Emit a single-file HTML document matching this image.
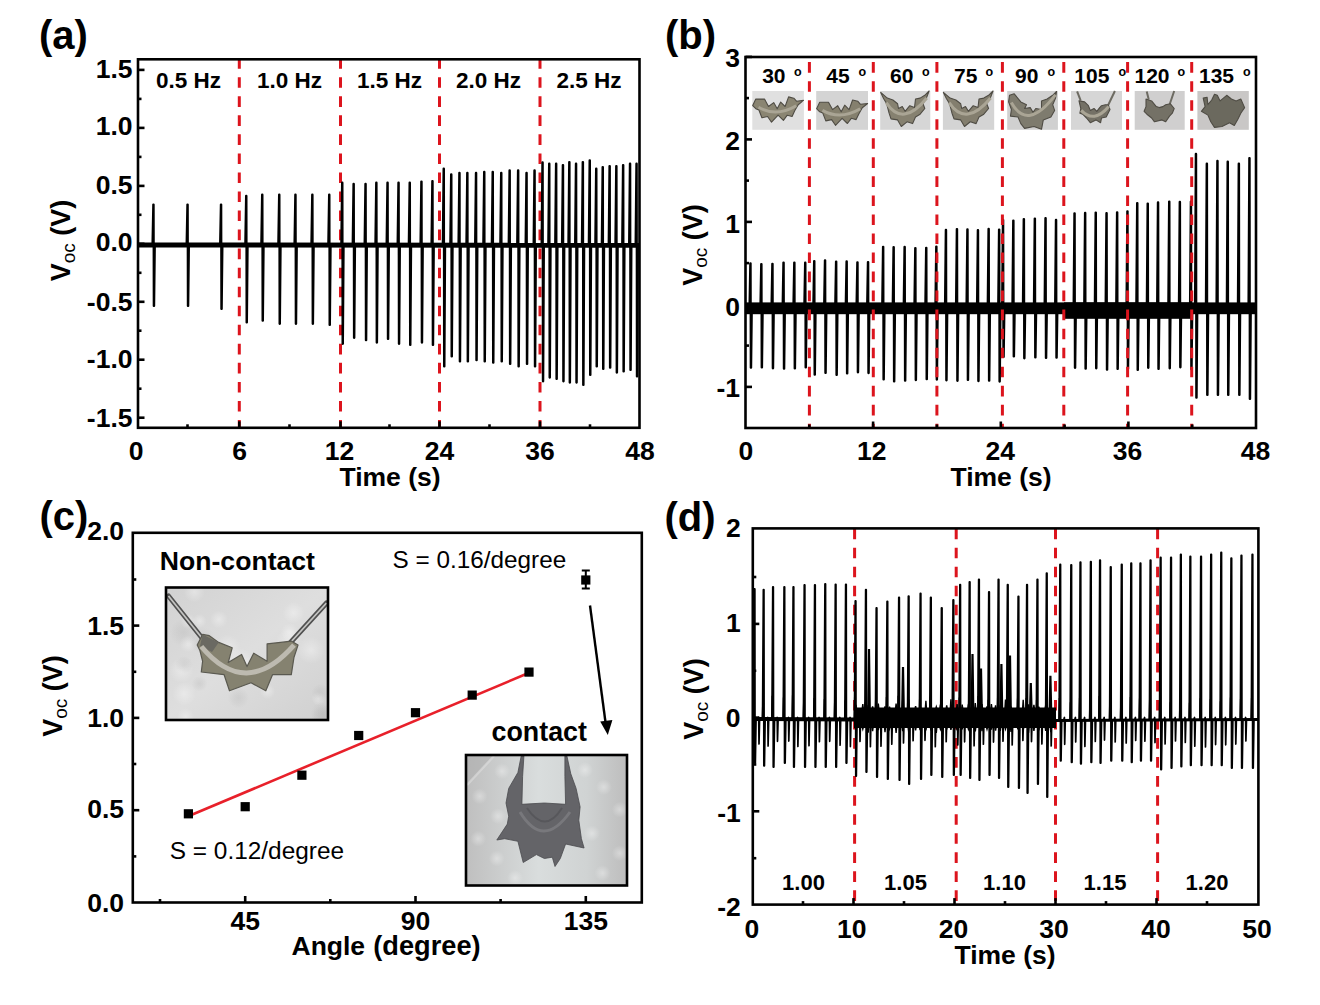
<!DOCTYPE html>
<html><head><meta charset="utf-8"><title>Figure</title>
<style>
html,body{margin:0;padding:0;background:#fff;}
svg{display:block;}
text{font-family:"Liberation Sans", sans-serif;fill:#000;}
</style></head>
<body>
<svg width="1320" height="1005" viewBox="0 0 1320 1005">
<rect width="1320" height="1005" fill="#fff"/>
<line x1="239.3" y1="58.2" x2="239.3" y2="427.8" stroke="#dc141d" stroke-width="3" stroke-dasharray="10.6 8.44" stroke-dashoffset="0"/>
<line x1="340.5" y1="58.2" x2="340.5" y2="427.8" stroke="#dc141d" stroke-width="3" stroke-dasharray="10.6 8.44" stroke-dashoffset="0"/>
<line x1="439.5" y1="58.2" x2="439.5" y2="427.8" stroke="#dc141d" stroke-width="3" stroke-dasharray="10.6 8.44" stroke-dashoffset="0"/>
<line x1="540.0" y1="58.2" x2="540.0" y2="427.8" stroke="#dc141d" stroke-width="3" stroke-dasharray="10.6 8.44" stroke-dashoffset="0"/>
<line x1="138" y1="245.0" x2="639.5" y2="245.2" stroke="#000" stroke-width="5"/>
<path d="M152.5,245.0 L153.3,204.5 L153.6,204.5 L153.8,306.0 L154.1,306.0 L154.8,246.0 M186.6,245.0 L187.4,204.5 L187.7,204.5 L187.9,306.0 L188.2,306.0 L188.9,246.0 M220.1,245.0 L220.9,204.5 L221.2,204.5 L221.4,309.0 L221.7,309.0 L222.4,246.0 M245.3,245.0 L246.1,195.9 L246.4,195.9 L246.6,322.4 L246.9,322.4 L247.6,246.0 M261.3,245.0 L262.1,194.7 L262.4,194.7 L262.6,320.7 L262.9,320.7 L263.6,246.0 M278.3,245.0 L279.1,194.7 L279.4,194.7 L279.6,323.8 L279.9,323.8 L280.6,246.0 M294.5,245.0 L295.3,194.7 L295.6,194.7 L295.8,323.8 L296.1,323.8 L296.8,246.0 M311.4,245.0 L312.2,194.7 L312.5,194.7 L312.7,323.8 L313.0,323.8 L313.7,246.0 M328.3,245.0 L329.1,194.7 L329.4,194.7 L329.6,325.0 L329.9,325.0 L330.6,246.0 M341.3,245.0 L342.1,182.7 L342.4,182.7 L342.6,343.8 L342.9,343.8 L343.6,246.0 M352.7,245.0 L353.5,183.9 L353.8,183.9 L354.0,337.8 L354.3,337.8 L355.0,246.0 M364.6,245.0 L365.4,183.9 L365.7,183.9 L365.9,340.2 L366.2,340.2 L366.9,246.0 M375.4,245.0 L376.2,182.7 L376.5,182.7 L376.7,342.6 L377.0,342.6 L377.7,246.0 M386.6,245.0 L387.4,182.7 L387.7,182.7 L387.9,339.0 L388.2,339.0 L388.9,246.0 M397.6,245.0 L398.4,182.7 L398.7,182.7 L398.9,343.8 L399.2,343.8 L399.9,246.0 M408.8,245.0 L409.6,182.7 L409.9,182.7 L410.1,345.0 L410.4,345.0 L411.1,246.0 M420.5,245.0 L421.3,181.5 L421.6,181.5 L421.8,342.6 L422.1,342.6 L422.8,246.0 M431.5,245.0 L432.3,181.0 L432.6,181.0 L432.8,345.0 L433.1,345.0 L433.8,246.0 M442.8,245.0 L443.6,168.7 L443.9,168.7 L444.1,366.4 L444.4,366.4 L445.1,246.0 M450.3,245.0 L451.1,174.4 L451.4,174.4 L451.6,356.5 L451.9,356.5 L452.6,246.0 M458.5,245.0 L459.3,172.9 L459.6,172.9 L459.8,361.4 L460.1,361.4 L460.8,246.0 M466.4,245.0 L467.2,172.9 L467.5,172.9 L467.7,361.4 L468.0,361.4 L468.7,246.0 M475.1,245.0 L475.9,172.9 L476.2,172.9 L476.4,360.2 L476.7,360.2 L477.4,246.0 M483.3,245.0 L484.1,171.9 L484.4,171.9 L484.6,361.4 L484.9,361.4 L485.6,246.0 M491.8,245.0 L492.6,171.9 L492.9,171.9 L493.1,362.7 L493.4,362.7 L494.1,246.0 M500.3,245.0 L501.1,172.9 L501.4,172.9 L501.6,361.4 L501.9,361.4 L502.6,246.0 M508.7,245.0 L509.5,170.4 L509.8,170.4 L510.0,363.9 L510.3,363.9 L511.0,246.0 M517.2,245.0 L518.0,170.4 L518.3,170.4 L518.5,366.4 L518.8,366.4 L519.5,246.0 M525.6,245.0 L526.4,172.9 L526.7,172.9 L526.9,363.9 L527.2,363.9 L527.9,246.0 M533.6,245.0 L534.4,170.4 L534.7,170.4 L534.9,366.4 L535.2,366.4 L535.9,246.0 M541.6,245.0 L542.4,162.4 L542.7,162.4 L542.9,381.3 L543.2,381.3 L543.9,246.0 M548.3,245.0 L549.1,163.7 L549.4,163.7 L549.6,377.6 L549.9,377.6 L550.6,246.0 M555.2,245.0 L556.0,163.7 L556.3,163.7 L556.5,378.9 L556.8,378.9 L557.5,246.0 M562.0,245.0 L562.8,165.0 L563.1,165.0 L563.3,381.3 L563.6,381.3 L564.3,246.0 M568.4,245.0 L569.2,162.0 L569.5,162.0 L569.7,382.6 L570.0,382.6 L570.7,246.0 M575.1,245.0 L575.9,163.7 L576.2,163.7 L576.4,382.6 L576.7,382.6 L577.4,246.0 M581.9,245.0 L582.7,162.0 L583.0,162.0 L583.2,385.0 L583.5,385.0 L584.2,246.0 M588.8,245.0 L589.6,160.4 L589.9,160.4 L590.1,375.0 L590.4,375.0 L591.1,246.0 M595.3,245.0 L596.1,168.7 L596.4,168.7 L596.6,366.4 L596.9,366.4 L597.6,246.0 M601.8,245.0 L602.6,167.0 L602.9,167.0 L603.1,369.0 L603.4,369.0 L604.1,246.0 M608.7,245.0 L609.5,166.0 L609.8,166.0 L610.0,367.7 L610.3,367.7 L611.0,246.0 M615.4,245.0 L616.2,166.0 L616.5,166.0 L616.7,372.6 L617.0,372.6 L617.7,246.0 M622.2,245.0 L623.0,165.0 L623.3,165.0 L623.5,371.4 L623.8,371.4 L624.5,246.0 M629.1,245.0 L629.9,163.7 L630.2,163.7 L630.4,370.0 L630.7,370.0 L631.4,246.0 M635.6,245.0 L636.4,163.7 L636.7,163.7 L636.9,376.4 L637.2,376.4 L637.9,246.0" fill="none" stroke="#000" stroke-width="2.2" stroke-linejoin="round"/>
<rect x="138" y="59.3" width="501.5" height="368.5" fill="none" stroke="#000" stroke-width="2.6"/>
<line x1="138" y1="69.9" x2="144.5" y2="69.9" stroke="#000" stroke-width="2.6"/>
<line x1="138" y1="127.9" x2="144.5" y2="127.9" stroke="#000" stroke-width="2.6"/>
<line x1="138" y1="185.9" x2="144.5" y2="185.9" stroke="#000" stroke-width="2.6"/>
<line x1="138" y1="243.8" x2="144.5" y2="243.8" stroke="#000" stroke-width="2.6"/>
<line x1="138" y1="301.8" x2="144.5" y2="301.8" stroke="#000" stroke-width="2.6"/>
<line x1="138" y1="359.7" x2="144.5" y2="359.7" stroke="#000" stroke-width="2.6"/>
<line x1="138" y1="417.7" x2="144.5" y2="417.7" stroke="#000" stroke-width="2.6"/>
<line x1="138" y1="98.9" x2="141.5" y2="98.9" stroke="#000" stroke-width="2.6"/>
<line x1="138" y1="156.9" x2="141.5" y2="156.9" stroke="#000" stroke-width="2.6"/>
<line x1="138" y1="214.8" x2="141.5" y2="214.8" stroke="#000" stroke-width="2.6"/>
<line x1="138" y1="272.8" x2="141.5" y2="272.8" stroke="#000" stroke-width="2.6"/>
<line x1="138" y1="330.7" x2="141.5" y2="330.7" stroke="#000" stroke-width="2.6"/>
<line x1="138" y1="388.7" x2="141.5" y2="388.7" stroke="#000" stroke-width="2.6"/>
<line x1="239.3" y1="427.8" x2="239.3" y2="421.3" stroke="#000" stroke-width="2.6"/>
<line x1="340.5" y1="427.8" x2="340.5" y2="421.3" stroke="#000" stroke-width="2.6"/>
<line x1="439.5" y1="427.8" x2="439.5" y2="421.3" stroke="#000" stroke-width="2.6"/>
<line x1="540.0" y1="427.8" x2="540.0" y2="421.3" stroke="#000" stroke-width="2.6"/>
<line x1="187.5" y1="427.8" x2="187.5" y2="424.3" stroke="#000" stroke-width="2.6"/>
<line x1="289.5" y1="427.8" x2="289.5" y2="424.3" stroke="#000" stroke-width="2.6"/>
<line x1="389.5" y1="427.8" x2="389.5" y2="424.3" stroke="#000" stroke-width="2.6"/>
<line x1="489.5" y1="427.8" x2="489.5" y2="424.3" stroke="#000" stroke-width="2.6"/>
<line x1="590.0" y1="427.8" x2="590.0" y2="424.3" stroke="#000" stroke-width="2.6"/>
<text x="132.5" y="77.7" font-size="26.5" font-weight="bold" text-anchor="end" >1.5</text>
<text x="132.5" y="135.4" font-size="26.5" font-weight="bold" text-anchor="end" >1.0</text>
<text x="132.5" y="193.7" font-size="26.5" font-weight="bold" text-anchor="end" >0.5</text>
<text x="132.5" y="251.3" font-size="26.5" font-weight="bold" text-anchor="end" >0.0</text>
<text x="132.5" y="310.9" font-size="26.5" font-weight="bold" text-anchor="end" >-0.5</text>
<text x="132.5" y="367.9" font-size="26.5" font-weight="bold" text-anchor="end" >-1.0</text>
<text x="132.5" y="426.8" font-size="26.5" font-weight="bold" text-anchor="end" >-1.5</text>
<text x="136.0" y="460.3" font-size="26.5" font-weight="bold" text-anchor="middle" >0</text>
<text x="239.5" y="460.3" font-size="26.5" font-weight="bold" text-anchor="middle" >6</text>
<text x="339.5" y="460.3" font-size="26.5" font-weight="bold" text-anchor="middle" >12</text>
<text x="439.5" y="460.3" font-size="26.5" font-weight="bold" text-anchor="middle" >24</text>
<text x="540.0" y="460.3" font-size="26.5" font-weight="bold" text-anchor="middle" >36</text>
<text x="640.0" y="460.3" font-size="26.5" font-weight="bold" text-anchor="middle" >48</text>
<text x="390.0" y="486.0" font-size="26.5" font-weight="bold" text-anchor="middle" >Time (s)</text>
<text transform="translate(69.5,240.5) rotate(-90)" font-size="27" font-weight="bold" text-anchor="middle">V<tspan font-size="19" font-weight="normal" dy="5">oc</tspan><tspan dy="-5"> (V)</tspan></text>
<text x="39.0" y="48.5" font-size="40" font-weight="bold" text-anchor="start" >(a)</text>
<text x="188.5" y="88.0" font-size="22.5" font-weight="bold" text-anchor="middle" >0.5 Hz</text>
<text x="289.5" y="88.0" font-size="22.5" font-weight="bold" text-anchor="middle" >1.0 Hz</text>
<text x="389.5" y="88.0" font-size="22.5" font-weight="bold" text-anchor="middle" >1.5 Hz</text>
<text x="488.5" y="88.0" font-size="22.5" font-weight="bold" text-anchor="middle" >2.0 Hz</text>
<text x="589.0" y="88.0" font-size="22.5" font-weight="bold" text-anchor="middle" >2.5 Hz</text>
<rect x="745.5" y="302.4" width="510.5" height="11.8" fill="#000"/>
<rect x="1064" y="302.4" width="128" height="16.4" fill="#000"/>
<path d="M749.5,308.0 L750.3,263.3 L750.6,263.3 L750.8,367.7 L751.1,367.7 L751.8,309.0 M760.4,308.0 L761.2,264.1 L761.5,264.1 L761.7,367.4 L762.0,367.4 L762.7,309.0 M771.5,308.0 L772.3,263.8 L772.6,263.8 L772.8,368.3 L773.1,368.3 L773.8,309.0 M782.6,308.0 L783.4,262.6 L783.7,262.6 L783.9,368.7 L784.2,368.7 L784.9,309.0 M793.4,308.0 L794.2,262.6 L794.5,262.6 L794.7,368.5 L795.0,368.5 L795.7,309.0 M804.3,308.0 L805.1,262.7 L805.4,262.7 L805.6,367.5 L805.9,367.5 L806.6,309.0 M813.3,308.0 L814.1,261.0 L814.4,261.0 L814.6,374.7 L814.9,374.7 L815.6,309.0 M824.1,308.0 L824.9,260.3 L825.2,260.3 L825.4,372.9 L825.7,372.9 L826.4,309.0 M835.2,308.0 L836.0,261.5 L836.3,261.5 L836.5,375.0 L836.8,375.0 L837.5,309.0 M845.7,308.0 L846.5,261.4 L846.8,261.4 L847.0,373.4 L847.3,373.4 L848.0,309.0 M856.5,308.0 L857.3,262.3 L857.6,262.3 L857.8,372.3 L858.1,372.3 L858.8,309.0 M867.1,308.0 L867.9,262.1 L868.2,262.1 L868.4,373.1 L868.7,373.1 L869.4,309.0 M882.2,308.0 L883.0,246.8 L883.3,246.8 L883.5,379.4 L883.8,379.4 L884.5,309.0 M892.7,308.0 L893.5,247.2 L893.8,247.2 L894.0,381.4 L894.3,381.4 L895.0,309.0 M903.7,308.0 L904.5,246.9 L904.8,246.9 L905.0,380.7 L905.3,380.7 L906.0,309.0 M914.4,308.0 L915.2,248.0 L915.5,248.0 L915.7,380.1 L916.0,380.1 L916.7,309.0 M925.3,308.0 L926.1,247.8 L926.4,247.8 L926.6,379.2 L926.9,379.2 L927.6,309.0 M935.4,308.0 L936.2,246.6 L936.5,246.6 L936.7,379.6 L937.0,379.6 L937.7,309.0 M945.0,308.0 L945.8,229.9 L946.1,229.9 L946.3,380.3 L946.6,380.3 L947.3,309.0 M956.0,308.0 L956.8,229.1 L957.1,229.1 L957.3,380.8 L957.6,380.8 L958.3,309.0 M966.5,308.0 L967.3,229.4 L967.6,229.4 L967.8,379.9 L968.1,379.9 L968.8,309.0 M977.0,308.0 L977.8,230.2 L978.1,230.2 L978.3,381.1 L978.6,381.1 L979.3,309.0 M987.7,308.0 L988.5,228.9 L988.8,228.9 L989.0,380.7 L989.3,380.7 L990.0,309.0 M998.2,308.0 L999.0,229.6 L999.3,229.6 L999.5,381.6 L999.8,381.6 L1000.5,309.0 M1002.1,308.0 L1002.9,219.9 L1003.2,219.9 L1003.4,356.9 L1003.7,356.9 L1004.4,309.0 M1012.4,308.0 L1013.2,220.5 L1013.5,220.5 L1013.7,356.4 L1014.0,356.4 L1014.7,309.0 M1022.9,308.0 L1023.7,219.1 L1024.0,219.1 L1024.2,358.3 L1024.5,358.3 L1025.2,309.0 M1033.9,308.0 L1034.7,218.5 L1035.0,218.5 L1035.2,357.5 L1035.5,357.5 L1036.2,309.0 M1044.6,308.0 L1045.4,218.2 L1045.7,218.2 L1045.9,358.0 L1046.2,358.0 L1046.9,309.0 M1055.1,308.0 L1055.9,219.9 L1056.2,219.9 L1056.4,357.7 L1056.7,357.7 L1057.4,309.0 M1073.6,308.0 L1074.4,213.3 L1074.7,213.3 L1074.9,367.8 L1075.2,367.8 L1075.9,309.0 M1084.2,308.0 L1085.0,212.9 L1085.3,212.9 L1085.5,368.7 L1085.8,368.7 L1086.5,309.0 M1094.8,308.0 L1095.6,212.6 L1095.9,212.6 L1096.1,368.3 L1096.4,368.3 L1097.1,309.0 M1105.6,308.0 L1106.4,213.2 L1106.7,213.2 L1106.9,369.7 L1107.2,369.7 L1107.9,309.0 M1116.2,308.0 L1117.0,212.3 L1117.3,212.3 L1117.5,368.9 L1117.8,368.9 L1118.5,309.0 M1126.5,308.0 L1127.3,211.3 L1127.6,211.3 L1127.8,369.0 L1128.1,369.0 L1128.8,309.0 M1136.3,308.0 L1137.1,203.1 L1137.4,203.1 L1137.6,369.9 L1137.9,369.9 L1138.6,309.0 M1146.8,308.0 L1147.6,203.5 L1147.9,203.5 L1148.1,367.8 L1148.4,367.8 L1149.1,309.0 M1157.1,308.0 L1157.9,202.4 L1158.2,202.4 L1158.4,368.9 L1158.7,368.9 L1159.4,309.0 M1168.3,308.0 L1169.1,201.6 L1169.4,201.6 L1169.6,368.3 L1169.9,368.3 L1170.6,309.0 M1178.9,308.0 L1179.7,201.9 L1180.0,201.9 L1180.2,367.3 L1180.5,367.3 L1181.2,309.0 M1190.0,308.0 L1190.8,201.6 L1191.1,201.6 L1191.3,369.2 L1191.6,369.2 L1192.3,309.0 M1195.0,308.0 L1195.8,153.9 L1196.1,153.9 L1196.3,397.7 L1196.6,397.7 L1197.3,309.0 M1205.9,308.0 L1206.7,163.7 L1207.0,163.7 L1207.2,394.9 L1207.5,394.9 L1208.2,309.0 M1216.5,308.0 L1217.3,160.9 L1217.6,160.9 L1217.8,394.9 L1218.1,394.9 L1218.8,309.0 M1226.8,308.0 L1227.6,161.7 L1227.9,161.7 L1228.1,394.9 L1228.4,394.9 L1229.1,309.0 M1237.9,308.0 L1238.7,163.7 L1239.0,163.7 L1239.2,394.9 L1239.5,394.9 L1240.2,309.0 M1248.5,308.0 L1249.3,158.1 L1249.6,158.1 L1249.8,399.0 L1250.1,399.0 L1250.8,309.0" fill="none" stroke="#000" stroke-width="2.2" stroke-linejoin="round"/>
<line x1="809.4" y1="62.1" x2="809.4" y2="428.0" stroke="#dc141d" stroke-width="3" stroke-dasharray="10.6 8.44" stroke-dashoffset="0"/>
<line x1="873.3" y1="62.1" x2="873.3" y2="428.0" stroke="#dc141d" stroke-width="3" stroke-dasharray="10.6 8.44" stroke-dashoffset="0"/>
<line x1="936.9" y1="62.1" x2="936.9" y2="428.0" stroke="#dc141d" stroke-width="3" stroke-dasharray="10.6 8.44" stroke-dashoffset="0"/>
<line x1="1002.4" y1="62.1" x2="1002.4" y2="428.0" stroke="#dc141d" stroke-width="3" stroke-dasharray="10.6 8.44" stroke-dashoffset="0"/>
<line x1="1063.8" y1="62.1" x2="1063.8" y2="428.0" stroke="#dc141d" stroke-width="3" stroke-dasharray="10.6 8.44" stroke-dashoffset="0"/>
<line x1="1127.6" y1="62.1" x2="1127.6" y2="428.0" stroke="#dc141d" stroke-width="3" stroke-dasharray="10.6 8.44" stroke-dashoffset="0"/>
<line x1="1191.7" y1="62.1" x2="1191.7" y2="428.0" stroke="#dc141d" stroke-width="3" stroke-dasharray="10.6 8.44" stroke-dashoffset="0"/>
<rect x="752.3" y="91.0" width="51.6" height="38.8" fill="#e0e0e0"/>
<polygon points="755.8,99.1 764.5,99.1 768.5,106.5 773.7,102.6 777.2,108.7 780.7,102.1 785.1,106.5 788.6,96.9 793.8,98.2 796.5,101.2 803.5,100.4 798.2,104.7 794.7,110.8 792.1,116.5 787.3,115.2 783.4,120.4 778.1,115.2 771.5,122.2 767.6,116.5 761.9,117.8 758.9,110.0 755.8,108.7 752.7,105.6" fill="#8a8572" stroke="#4f4c44" stroke-width="1.1" stroke-linejoin="round"/>
<path d="M758.5,107.3 Q776.6,117.4 796.2,105.7" fill="none" stroke="#aaa595" stroke-width="3"/>
<rect x="816.2" y="91.0" width="51.8" height="38.8" fill="#d4d4d4"/>
<polygon points="819.7,102.2 828.5,102.2 832.5,109.6 837.7,105.7 841.2,111.8 844.7,105.2 849.1,109.6 852.6,100.0 857.9,101.3 860.5,104.3 867.6,103.5 862.3,107.8 858.8,113.9 856.1,119.6 851.3,118.3 847.4,123.5 842.1,118.3 835.5,125.3 831.6,119.6 825.8,120.9 822.8,113.1 819.7,111.8 816.6,108.7" fill="#85806e" stroke="#4f4c44" stroke-width="1.1" stroke-linejoin="round"/>
<path d="M822.4,110.4 Q840.5,120.5 860.2,108.8" fill="none" stroke="#aaa595" stroke-width="3"/>
<rect x="880.2" y="91.0" width="50.1" height="38.8" fill="#d6d6d6"/>
<polygon points="880.7,92.4 887.3,98.1 892.9,100.0 897.6,103.8 898.5,108.5 902.3,106.6 905.1,111.3 909.8,105.7 914.5,107.6 915.5,99.0 920.1,98.1 924.8,95.3 929.1,91.0 926.7,97.2 923.0,103.8 924.8,108.5 920.1,114.2 915.5,117.0 912.6,123.6 907.0,121.8 901.3,126.5 897.6,119.9 891.0,118.9 889.1,113.2 886.7,103.8 883.7,98.8" fill="#868170" stroke="#4f4c44" stroke-width="1.1" stroke-linejoin="round"/>
<path d="M886.2,102.6 Q902.7,127.9 926.8,98.0" fill="none" stroke="#aaa595" stroke-width="3"/>
<rect x="942.9" y="91.0" width="51.3" height="38.8" fill="#d4d4d4"/>
<polygon points="943.4,92.4 950.1,98.1 955.9,100.0 960.7,103.8 961.7,108.5 965.5,106.6 968.4,111.3 973.2,105.7 978.0,107.6 979.0,99.0 983.8,98.1 988.6,95.3 993.0,91.0 990.6,97.2 986.7,103.8 988.6,108.5 983.8,114.2 979.0,117.0 976.1,123.6 970.3,121.8 964.5,126.5 960.7,119.9 954.0,118.9 952.0,113.2 949.6,103.8 946.5,98.8" fill="#837e6e" stroke="#4f4c44" stroke-width="1.1" stroke-linejoin="round"/>
<path d="M949.1,102.6 Q966.0,127.9 990.6,98.0" fill="none" stroke="#aaa595" stroke-width="3"/>
<rect x="1007.2" y="91.0" width="50.7" height="38.8" fill="#d0d0d0"/>
<polygon points="1009.5,95.3 1014.2,93.8 1020.8,101.9 1026.5,104.7 1024.6,108.5 1030.2,107.6 1033.0,112.3 1035.8,108.5 1041.5,109.5 1041.5,100.9 1047.1,99.0 1052.7,95.3 1056.5,91.5 1055.6,98.1 1052.7,104.7 1054.6,110.4 1050.9,117.0 1043.3,119.9 1041.5,129.3 1034.0,126.5 1024.6,128.4 1020.8,123.6 1018.0,117.0 1010.5,116.1 1011.4,109.5 1008.6,101.9" fill="#7e7b6e" stroke="#4f4c44" stroke-width="1.1" stroke-linejoin="round"/>
<path d="M1011.3,102.6 Q1027.5,131.7 1055.4,94.9" fill="none" stroke="#aaa595" stroke-width="3"/>
<rect x="1071.0" y="91.0" width="51.0" height="38.8" fill="#d6d6d6"/>
<line x1="1077.1" y1="91.4" x2="1080.7" y2="100.7" stroke="#6d6b62" stroke-width="2"/>
<line x1="1114.9" y1="91.0" x2="1108.2" y2="105.0" stroke="#6d6b62" stroke-width="2"/>
<polygon points="1079.0,100.9 1084.6,101.9 1088.4,105.7 1090.3,110.4 1094.0,108.5 1096.8,111.3 1099.7,107.6 1101.5,105.7 1105.3,104.7 1108.1,104.7 1110.0,109.5 1108.1,113.2 1106.2,117.0 1101.5,118.0 1100.6,122.7 1095.9,119.9 1090.3,122.7 1086.5,118.0 1082.7,114.2 1079.9,113.2 1080.8,108.5" fill="#747166" stroke="#4f4c44" stroke-width="1.1" stroke-linejoin="round"/>
<path d="M1081.2,110.4 Q1094.0,124.0 1108.7,106.5" fill="none" stroke="#aaa595" stroke-width="3"/>
<rect x="1134.7" y="91.0" width="50.0" height="38.8" fill="#d0cfcf"/>
<line x1="1146.7" y1="91.4" x2="1148.7" y2="99.5" stroke="#6d6b62" stroke-width="2"/>
<line x1="1174.2" y1="91.0" x2="1169.7" y2="104.2" stroke="#6d6b62" stroke-width="2"/>
<polygon points="1146.0,99.0 1151.6,100.9 1156.3,106.6 1159.2,107.6 1162.9,106.6 1165.7,104.7 1170.4,103.8 1174.2,108.5 1172.3,113.2 1169.5,116.1 1165.7,121.8 1162.0,119.9 1154.5,121.8 1151.6,118.0 1146.9,114.2 1144.1,111.3 1146.0,106.6" fill="#747166" stroke="#4f4c44" stroke-width="1.1" stroke-linejoin="round"/>
<rect x="1197.4" y="91.0" width="51.4" height="38.8" fill="#c9c7c6"/>
<polygon points="1203.2,98.1 1207.1,97.2 1207.9,104.7 1211.7,100.0 1214.5,94.3 1217.3,95.3 1220.1,100.9 1226.7,95.3 1231.4,99.0 1236.1,100.9 1240.8,99.0 1244.6,107.6 1240.8,113.2 1238.0,118.9 1234.3,125.5 1229.5,122.7 1222.0,126.5 1214.5,127.4 1210.8,121.8 1207.9,115.1 1201.4,111.3 1205.1,106.6" fill="#6b695e" stroke="#4f4c44" stroke-width="1.1" stroke-linejoin="round"/>
<rect x="745.5" y="57.0" width="510.5" height="371.0" fill="none" stroke="#000" stroke-width="2.6"/>
<line x1="745.5" y1="56.9" x2="752.0" y2="56.9" stroke="#000" stroke-width="2.6"/>
<line x1="745.5" y1="139.4" x2="752.0" y2="139.4" stroke="#000" stroke-width="2.6"/>
<line x1="745.5" y1="221.9" x2="752.0" y2="221.9" stroke="#000" stroke-width="2.6"/>
<line x1="745.5" y1="304.4" x2="752.0" y2="304.4" stroke="#000" stroke-width="2.6"/>
<line x1="745.5" y1="386.9" x2="752.0" y2="386.9" stroke="#000" stroke-width="2.6"/>
<line x1="745.5" y1="98.1" x2="749.0" y2="98.1" stroke="#000" stroke-width="2.6"/>
<line x1="745.5" y1="180.6" x2="749.0" y2="180.6" stroke="#000" stroke-width="2.6"/>
<line x1="745.5" y1="263.1" x2="749.0" y2="263.1" stroke="#000" stroke-width="2.6"/>
<line x1="745.5" y1="345.6" x2="749.0" y2="345.6" stroke="#000" stroke-width="2.6"/>
<line x1="873.1" y1="428.0" x2="873.1" y2="421.5" stroke="#000" stroke-width="2.6"/>
<line x1="1000.8" y1="428.0" x2="1000.8" y2="421.5" stroke="#000" stroke-width="2.6"/>
<line x1="1128.4" y1="428.0" x2="1128.4" y2="421.5" stroke="#000" stroke-width="2.6"/>
<line x1="809.3" y1="428.0" x2="809.3" y2="424.5" stroke="#000" stroke-width="2.6"/>
<line x1="936.9" y1="428.0" x2="936.9" y2="424.5" stroke="#000" stroke-width="2.6"/>
<line x1="1064.6" y1="428.0" x2="1064.6" y2="424.5" stroke="#000" stroke-width="2.6"/>
<line x1="1192.2" y1="428.0" x2="1192.2" y2="424.5" stroke="#000" stroke-width="2.6"/>
<text x="740.0" y="67.2" font-size="26.5" font-weight="bold" text-anchor="end" >3</text>
<text x="740.0" y="149.8" font-size="26.5" font-weight="bold" text-anchor="end" >2</text>
<text x="740.0" y="232.5" font-size="26.5" font-weight="bold" text-anchor="end" >1</text>
<text x="740.0" y="315.7" font-size="26.5" font-weight="bold" text-anchor="end" >0</text>
<text x="740.0" y="397.0" font-size="26.5" font-weight="bold" text-anchor="end" >-1</text>
<text x="745.8" y="460.3" font-size="26.5" font-weight="bold" text-anchor="middle" >0</text>
<text x="871.8" y="460.3" font-size="26.5" font-weight="bold" text-anchor="middle" >12</text>
<text x="1000.2" y="460.3" font-size="26.5" font-weight="bold" text-anchor="middle" >24</text>
<text x="1127.4" y="460.3" font-size="26.5" font-weight="bold" text-anchor="middle" >36</text>
<text x="1255.5" y="460.3" font-size="26.5" font-weight="bold" text-anchor="middle" >48</text>
<text x="1001.0" y="486.0" font-size="26.5" font-weight="bold" text-anchor="middle" >Time (s)</text>
<text transform="translate(701.5,245.0) rotate(-90)" font-size="27" font-weight="bold" text-anchor="middle">V<tspan font-size="19" font-weight="normal" dy="5">oc</tspan><tspan dy="-5"> (V)</tspan></text>
<text x="665.0" y="48.5" font-size="40" font-weight="bold" text-anchor="start" >(b)</text>
<text x="762.2" y="83.2" font-size="21" font-weight="bold" text-anchor="start" >30</text>
<text x="794.0" y="76.0" font-size="12.5" font-weight="bold" text-anchor="start" >o</text>
<text x="826.3" y="83.2" font-size="21" font-weight="bold" text-anchor="start" >45</text>
<text x="858.5" y="76.0" font-size="12.5" font-weight="bold" text-anchor="start" >o</text>
<text x="890.0" y="83.2" font-size="21" font-weight="bold" text-anchor="start" >60</text>
<text x="922.0" y="76.0" font-size="12.5" font-weight="bold" text-anchor="start" >o</text>
<text x="954.0" y="83.2" font-size="21" font-weight="bold" text-anchor="start" >75</text>
<text x="985.5" y="76.0" font-size="12.5" font-weight="bold" text-anchor="start" >o</text>
<text x="1015.0" y="83.2" font-size="21" font-weight="bold" text-anchor="start" >90</text>
<text x="1047.5" y="76.0" font-size="12.5" font-weight="bold" text-anchor="start" >o</text>
<text x="1074.3" y="83.2" font-size="21" font-weight="bold" text-anchor="start" >105</text>
<text x="1118.5" y="76.0" font-size="12.5" font-weight="bold" text-anchor="start" >o</text>
<text x="1134.5" y="83.2" font-size="21" font-weight="bold" text-anchor="start" >120</text>
<text x="1177.5" y="76.0" font-size="12.5" font-weight="bold" text-anchor="start" >o</text>
<text x="1199.0" y="83.2" font-size="21" font-weight="bold" text-anchor="start" >135</text>
<text x="1243.0" y="76.0" font-size="12.5" font-weight="bold" text-anchor="start" >o</text>
<rect x="132.8" y="532.8" width="508.99999999999994" height="369.70000000000005" fill="none" stroke="#000" stroke-width="2.6"/>
<line x1="132.8" y1="625.6" x2="139.3" y2="625.6" stroke="#000" stroke-width="2.6"/>
<line x1="132.8" y1="717.9" x2="139.3" y2="717.9" stroke="#000" stroke-width="2.6"/>
<line x1="132.8" y1="810.2" x2="139.3" y2="810.2" stroke="#000" stroke-width="2.6"/>
<line x1="132.8" y1="579.5" x2="136.3" y2="579.5" stroke="#000" stroke-width="2.6"/>
<line x1="132.8" y1="671.8" x2="136.3" y2="671.8" stroke="#000" stroke-width="2.6"/>
<line x1="132.8" y1="764.0" x2="136.3" y2="764.0" stroke="#000" stroke-width="2.6"/>
<line x1="132.8" y1="856.4" x2="136.3" y2="856.4" stroke="#000" stroke-width="2.6"/>
<line x1="245.2" y1="902.5" x2="245.2" y2="896.0" stroke="#000" stroke-width="2.6"/>
<line x1="415.5" y1="902.5" x2="415.5" y2="896.0" stroke="#000" stroke-width="2.6"/>
<line x1="585.8" y1="902.5" x2="585.8" y2="896.0" stroke="#000" stroke-width="2.6"/>
<line x1="160.0" y1="902.5" x2="160.0" y2="899.0" stroke="#000" stroke-width="2.6"/>
<line x1="330.3" y1="902.5" x2="330.3" y2="899.0" stroke="#000" stroke-width="2.6"/>
<line x1="500.6" y1="902.5" x2="500.6" y2="899.0" stroke="#000" stroke-width="2.6"/>
<text x="124.0" y="540.0" font-size="26.5" font-weight="bold" text-anchor="end" >2.0</text>
<text x="124.0" y="634.9" font-size="26.5" font-weight="bold" text-anchor="end" >1.5</text>
<text x="124.0" y="726.7" font-size="26.5" font-weight="bold" text-anchor="end" >1.0</text>
<text x="124.0" y="818.2" font-size="26.5" font-weight="bold" text-anchor="end" >0.5</text>
<text x="124.0" y="912.0" font-size="26.5" font-weight="bold" text-anchor="end" >0.0</text>
<text x="245.2" y="929.8" font-size="26.5" font-weight="bold" text-anchor="middle" >45</text>
<text x="415.5" y="929.8" font-size="26.5" font-weight="bold" text-anchor="middle" >90</text>
<text x="585.8" y="929.8" font-size="26.5" font-weight="bold" text-anchor="middle" >135</text>
<text x="291.5" y="954.5" font-size="26.5" font-weight="bold" text-anchor="start" >Angle</text>
<text x="373.3" y="954.5" font-size="27.2" font-weight="bold" text-anchor="start" >(degree)</text>
<text transform="translate(62.0,696.0) rotate(-90)" font-size="27" font-weight="bold" text-anchor="middle">V<tspan font-size="19" font-weight="normal" dy="5">oc</tspan><tspan dy="-5"> (V)</tspan></text>
<text x="39.5" y="530.0" font-size="40" font-weight="bold" text-anchor="start" >(c)</text>
<line x1="190" y1="815.5" x2="528.5" y2="673" stroke="#e8202a" stroke-width="2.6"/>
<rect x="183.8" y="809.2" width="9.2" height="9.2" fill="#000"/>
<rect x="240.6" y="802.1" width="9.2" height="9.2" fill="#000"/>
<rect x="297.3" y="770.6" width="9.2" height="9.2" fill="#000"/>
<rect x="354.1" y="730.9" width="9.2" height="9.2" fill="#000"/>
<rect x="410.9" y="708.1" width="9.2" height="9.2" fill="#000"/>
<rect x="467.6" y="690.5" width="9.2" height="9.2" fill="#000"/>
<rect x="524.4" y="667.5" width="9.2" height="9.2" fill="#000"/>
<rect x="581.2" y="575.4" width="9.2" height="9.2" fill="#000"/>
<path d="M585.8,570.5 V588.5 M581.8,570.5 H589.8 M581.8,588.5 H589.8" stroke="#000" stroke-width="2" fill="none"/>
<line x1="590" y1="605.5" x2="605.6" y2="723" stroke="#000" stroke-width="2.4"/>
<path d="M600.2,721.5 L612.4,720 L607.8,735 Z" fill="#000"/>
<defs><linearGradient id="g1" x1="0" y1="0" x2="1" y2="1"><stop offset="0" stop-color="#d2d2d2"/><stop offset="0.5" stop-color="#dedede"/><stop offset="1" stop-color="#d0d0d0"/></linearGradient><radialGradient id="spot"><stop offset="0" stop-color="#fff" stop-opacity="0.35"/><stop offset="1" stop-color="#fff" stop-opacity="0"/></radialGradient><radialGradient id="dspot"><stop offset="0" stop-color="#999" stop-opacity="0.18"/><stop offset="1" stop-color="#888" stop-opacity="0"/></radialGradient><linearGradient id="g2" x1="0" y1="0" x2="1" y2="0"><stop offset="0" stop-color="#bfbfbf"/><stop offset="0.45" stop-color="#d9dddd"/><stop offset="0.75" stop-color="#d0d3d3"/><stop offset="1" stop-color="#bdbdbd"/></linearGradient></defs>
<rect x="166" y="587.5" width="162" height="132.5" fill="url(#g1)"/>
<clipPath id="c1"><rect x="166" y="587.5" width="162" height="132.5"/></clipPath><g clip-path="url(#c1)">
<circle cx="240.1" cy="661.7" r="13.5" fill="url(#spot)"/>
<circle cx="248.7" cy="665.2" r="8.3" fill="url(#spot)"/>
<circle cx="267.6" cy="691.5" r="7.7" fill="url(#spot)"/>
<circle cx="184.1" cy="693.6" r="11.9" fill="url(#spot)"/>
<circle cx="322.2" cy="713.5" r="11.6" fill="url(#dspot)"/>
<circle cx="194.4" cy="591.9" r="10.7" fill="url(#spot)"/>
<circle cx="199.5" cy="621.0" r="7.2" fill="url(#spot)"/>
<circle cx="238.3" cy="697.8" r="10.6" fill="url(#dspot)"/>
<circle cx="247.5" cy="674.8" r="10.2" fill="url(#spot)"/>
<circle cx="324.6" cy="717.4" r="12.9" fill="url(#dspot)"/>
<circle cx="218.9" cy="619.4" r="9.0" fill="url(#spot)"/>
<circle cx="288.8" cy="641.3" r="12.9" fill="url(#spot)"/>
<circle cx="318.5" cy="698.5" r="7.0" fill="url(#spot)"/>
<circle cx="311.1" cy="650.2" r="13.9" fill="url(#spot)"/>
<circle cx="181.3" cy="670.6" r="12.4" fill="url(#spot)"/>
<circle cx="183.5" cy="632.6" r="13.7" fill="url(#dspot)"/>
<circle cx="188.3" cy="621.5" r="7.7" fill="url(#spot)"/>
<circle cx="293.5" cy="612.7" r="10.9" fill="url(#spot)"/>
<circle cx="199.6" cy="683.7" r="7.9" fill="url(#dspot)"/>
<circle cx="188.1" cy="643.9" r="8.5" fill="url(#spot)"/>
<circle cx="320.5" cy="692.8" r="9.1" fill="url(#dspot)"/>
<circle cx="202.7" cy="640.5" r="13.0" fill="url(#dspot)"/>
<circle cx="185.6" cy="716.6" r="8.5" fill="url(#spot)"/>
<circle cx="289.8" cy="632.1" r="9.1" fill="url(#spot)"/>
<circle cx="184.0" cy="664.6" r="8.7" fill="url(#dspot)"/>
<circle cx="227.6" cy="648.0" r="13.7" fill="url(#spot)"/>
</g>
<path d="M168.5,596 L202,638 M326.5,603 L290,643" stroke="#505050" stroke-width="5" fill="none" stroke-linecap="round"/>
<path d="M168.5,596 L202,638 M326.5,603 L290,643" stroke="#c4c4c2" stroke-width="1.8" fill="none"/>
<polygon points="197.2,645.1 202.6,634.4 209.3,635.7 218.7,642.4 232.2,647.8 228.2,662.6 241.6,654.5 247,666.6 253.7,653.2 267.1,661.2 267.1,643.8 280.6,642.4 291.3,641.1 298,645.1 294,657.2 291.3,674.7 272.5,674.7 265.8,690.8 251,682.8 229.5,690.8 224.1,674.7 201.3,672 202.6,661.2 199.9,650.5" fill="#858270" stroke="#5a5950" stroke-width="1.2" stroke-linejoin="round"/>
<path d="M202.6,634.4 L218.7,642.4 L212,652 L200,646 Z" fill="#6a6962"/>
<path d="M201.3,646.5 Q245.6,700 294,645.1" fill="none" stroke="#bdbab0" stroke-width="5"/>
<rect x="166" y="587.5" width="162" height="132.5" fill="none" stroke="#000" stroke-width="2.6"/>
<rect x="466" y="755" width="161" height="130.5" fill="url(#g2)"/>
<rect x="494" y="763.2" width="16" height="16" transform="rotate(45 502 771.2)" fill="url(#spot)"/>
<rect x="471.6" y="788.3" width="16" height="16" transform="rotate(45 479.6 796.3)" fill="url(#spot)"/>
<rect x="490.1" y="808.2" width="16" height="16" transform="rotate(45 498.1 816.2)" fill="url(#spot)"/>
<rect x="470.2" y="830.7" width="16" height="16" transform="rotate(45 478.2 838.7)" fill="url(#spot)"/>
<rect x="488.8" y="850.5" width="16" height="16" transform="rotate(45 496.8 858.5)" fill="url(#spot)"/>
<rect x="507" y="870" width="16" height="16" transform="rotate(45 515 878)" fill="url(#spot)"/>
<rect x="595.9" y="779.1" width="16" height="16" transform="rotate(45 603.9 787.1)" fill="url(#spot)"/>
<rect x="611.8" y="801.6" width="16" height="16" transform="rotate(45 619.8 809.6)" fill="url(#spot)"/>
<rect x="611.8" y="845.2" width="16" height="16" transform="rotate(45 619.8 853.2)" fill="url(#spot)"/>
<rect x="594.6" y="865.1" width="16" height="16" transform="rotate(45 602.6 873.1)" fill="url(#spot)"/>
<rect x="584" y="825.4" width="16" height="16" transform="rotate(45 592 833.4)" fill="url(#spot)"/>
<rect x="577" y="762" width="16" height="16" transform="rotate(45 585 770)" fill="url(#spot)"/>
<path d="M466,755 L494,755 L466,786 Z" fill="#a8a8a8" opacity="0.45"/>
<path d="M467,785 L494,756" stroke="#dedede" stroke-width="2.5" fill="none" opacity="0.6"/>
<polygon points="521.2,756 517.9,772.5 508.7,788.4 506,803 508.7,816.2 507.3,824.1 496.8,840 504.7,838.7 517.9,841.3 523.2,862.5 536.4,854.6 544.4,858.5 552.3,857.2 555,866.5 560.3,858.5 565.6,844 584.1,848 581.4,838.7 578.8,820.2 580.1,806.9 576.1,788.4 570.8,773.8 566.9,756 564.9,756 564.9,776.5 565.6,804.3 544.4,803 521.9,804.3 522.6,776.5 523.9,756" fill="#646468" stroke="#4a4a4e" stroke-width="0.8" stroke-linejoin="round"/>
<path d="M520,812 Q543,850 570,812" fill="none" stroke="#78787c" stroke-width="3"/>
<path d="M527,808 Q545,835 562,808" fill="none" stroke="#57575b" stroke-width="2"/>
<rect x="466" y="755" width="161" height="130.5" fill="none" stroke="#000" stroke-width="2.6"/>
<text x="159.8" y="570.0" font-size="26.6" font-weight="bold" text-anchor="start" >Non-contact</text>
<text x="491.6" y="741.2" font-size="26.8" font-weight="bold" text-anchor="start" >contact</text>
<text x="169.8" y="858.8" font-size="24.4" font-weight="normal" text-anchor="start" >S = 0.12/degree</text>
<text x="392.6" y="567.9" font-size="24.3" font-weight="normal" text-anchor="start" >S = 0.16/degree</text>
<line x1="854.6" y1="528.6" x2="854.6" y2="904.6" stroke="#dc141d" stroke-width="3" stroke-dasharray="10.6 8.44" stroke-dashoffset="0"/>
<line x1="956.2" y1="528.6" x2="956.2" y2="904.6" stroke="#dc141d" stroke-width="3" stroke-dasharray="10.6 8.44" stroke-dashoffset="0"/>
<line x1="1055.5" y1="528.6" x2="1055.5" y2="904.6" stroke="#dc141d" stroke-width="3" stroke-dasharray="10.6 8.44" stroke-dashoffset="0"/>
<line x1="1157.6" y1="528.6" x2="1157.6" y2="904.6" stroke="#dc141d" stroke-width="3" stroke-dasharray="10.6 8.44" stroke-dashoffset="0"/>
<line x1="752.8" y1="719" x2="855" y2="719.5" stroke="#000" stroke-width="4"/>
<rect x="854" y="707.5" width="202" height="20.5" fill="#000"/>
<line x1="1055" y1="720.5" x2="1258.4" y2="719.5" stroke="#000" stroke-width="3.2"/>
<path d="M753.6,719.0 L754.4,589.0 L754.7,589.0 L754.9,763.0 L755.2,763.0 L755.9,720.0 M762.7,719.0 L763.5,589.8 L763.8,589.8 L764.0,765.7 L764.3,765.7 L765.0,720.0 M772.1,719.0 L772.9,587.0 L773.2,587.0 L773.4,767.0 L773.7,767.0 L774.4,720.0 M783.4,719.0 L784.2,587.0 L784.5,587.0 L784.7,763.0 L785.0,763.0 L785.7,720.0 M792.5,719.0 L793.3,587.0 L793.6,587.0 L793.8,767.0 L794.1,767.0 L794.8,720.0 M803.6,719.0 L804.4,585.0 L804.7,585.0 L804.9,767.0 L805.2,767.0 L805.9,720.0 M814.0,719.0 L814.8,585.0 L815.1,585.0 L815.3,767.0 L815.6,767.0 L816.3,720.0 M824.3,719.0 L825.1,584.0 L825.4,584.0 L825.6,767.0 L825.9,767.0 L826.6,720.0 M834.7,719.0 L835.5,584.6 L835.8,584.6 L836.0,767.0 L836.3,767.0 L837.0,720.0 M845.0,719.0 L845.8,584.6 L846.1,584.6 L846.3,763.0 L846.6,763.0 L847.3,720.0 M854.6,719.0 L855.4,601.0 L855.7,601.0 L855.9,776.0 L856.2,776.0 L856.9,720.0 M865.0,719.0 L865.8,589.8 L866.1,589.8 L866.3,772.0 L866.6,772.0 L867.3,720.0 M875.6,719.0 L876.4,607.9 L876.7,607.9 L876.9,777.0 L877.2,777.0 L877.9,720.0 M886.4,719.0 L887.2,601.4 L887.5,601.4 L887.7,779.0 L888.0,779.0 L888.7,720.0 M898.1,719.0 L898.9,597.5 L899.2,597.5 L899.4,780.0 L899.7,780.0 L900.4,720.0 M907.7,719.0 L908.5,596.2 L908.8,596.2 L909.0,784.0 L909.3,784.0 L910.0,720.0 M919.6,719.0 L920.4,593.6 L920.7,593.6 L920.9,779.0 L921.2,779.0 L921.9,720.0 M929.9,719.0 L930.7,597.5 L931.0,597.5 L931.2,775.0 L931.5,775.0 L932.2,720.0 M940.8,719.0 L941.6,607.9 L941.9,607.9 L942.1,777.0 L942.4,777.0 L943.1,720.0 M952.4,719.0 L953.2,600.0 L953.5,600.0 L953.7,775.0 L954.0,775.0 L954.7,720.0 M959.2,719.0 L960.0,584.8 L960.3,584.8 L960.5,775.0 L960.8,775.0 L961.5,720.0 M968.7,719.0 L969.5,582.0 L969.8,582.0 L970.0,778.0 L970.3,778.0 L971.0,720.0 M978.0,719.0 L978.8,579.6 L979.1,579.6 L979.3,780.0 L979.6,780.0 L980.3,720.0 M988.1,719.0 L988.9,592.0 L989.2,592.0 L989.4,775.0 L989.7,775.0 L990.4,720.0 M997.6,719.0 L998.4,579.6 L998.7,579.6 L998.9,778.0 L999.2,778.0 L999.9,720.0 M1006.8,719.0 L1007.6,584.8 L1007.9,584.8 L1008.1,787.0 L1008.4,787.0 L1009.1,720.0 M1017.5,719.0 L1018.3,596.4 L1018.6,596.4 L1018.8,788.0 L1019.1,788.0 L1019.8,720.0 M1026.1,719.0 L1026.9,584.8 L1027.2,584.8 L1027.4,793.0 L1027.7,793.0 L1028.4,720.0 M1036.5,719.0 L1037.3,579.6 L1037.6,579.6 L1037.8,784.0 L1038.1,784.0 L1038.8,720.0 M1045.8,719.0 L1046.6,573.3 L1046.9,573.3 L1047.1,797.0 L1047.4,797.0 L1048.1,720.0 M1059.3,719.0 L1060.1,564.6 L1060.4,564.6 L1060.6,760.8 L1060.9,760.8 L1061.6,720.0 M1070.3,719.0 L1071.1,565.0 L1071.4,565.0 L1071.6,762.3 L1071.9,762.3 L1072.6,720.0 M1079.5,719.0 L1080.3,562.3 L1080.6,562.3 L1080.8,763.7 L1081.1,763.7 L1081.8,720.0 M1089.9,719.0 L1090.7,561.7 L1091.0,561.7 L1091.2,762.3 L1091.5,762.3 L1092.2,720.0 M1099.1,719.0 L1099.9,560.3 L1100.2,560.3 L1100.4,763.0 L1100.7,763.0 L1101.4,720.0 M1109.8,719.0 L1110.6,566.9 L1110.9,566.9 L1111.1,760.8 L1111.4,760.8 L1112.1,720.0 M1120.8,719.0 L1121.6,564.6 L1121.9,564.6 L1122.1,760.8 L1122.4,760.8 L1123.1,720.0 M1130.3,719.0 L1131.1,563.2 L1131.4,563.2 L1131.6,762.3 L1131.9,762.3 L1132.6,720.0 M1139.5,719.0 L1140.3,563.2 L1140.6,563.2 L1140.8,760.8 L1141.1,760.8 L1141.8,720.0 M1149.6,719.0 L1150.4,560.3 L1150.7,560.3 L1150.9,760.8 L1151.2,760.8 L1151.9,720.0 M1159.7,719.0 L1160.5,557.4 L1160.8,557.4 L1161.0,769.5 L1161.3,769.5 L1162.0,720.0 M1170.1,719.0 L1170.9,557.4 L1171.2,557.4 L1171.4,768.0 L1171.7,768.0 L1172.4,720.0 M1179.9,719.0 L1180.7,554.5 L1181.0,554.5 L1181.2,766.6 L1181.5,766.6 L1182.2,720.0 M1189.4,719.0 L1190.2,556.5 L1190.5,556.5 L1190.7,765.2 L1191.0,765.2 L1191.7,720.0 M1200.1,719.0 L1200.9,556.5 L1201.2,556.5 L1201.4,765.2 L1201.7,765.2 L1202.4,720.0 M1210.2,719.0 L1211.0,554.5 L1211.3,554.5 L1211.5,765.2 L1211.8,765.2 L1212.5,720.0 M1220.3,719.0 L1221.1,552.5 L1221.4,552.5 L1221.6,765.2 L1221.9,765.2 L1222.6,720.0 M1230.4,719.0 L1231.2,558.3 L1231.5,558.3 L1231.7,768.0 L1232.0,768.0 L1232.7,720.0 M1240.5,719.0 L1241.3,555.4 L1241.6,555.4 L1241.8,768.0 L1242.1,768.0 L1242.8,720.0 M1251.5,719.0 L1252.3,554.5 L1252.6,554.5 L1252.8,768.0 L1253.1,768.0 L1253.8,720.0" fill="none" stroke="#000" stroke-width="2.0" stroke-linejoin="round"/>
<path d="M758.1,719 L758.7,717.5 L759.0,744.0 L759.6,719.5 M767.2,719 L767.8,717.5 L768.1,746.1 L768.7,719.5 M776.6,719 L777.2,717.5 L777.5,741.3 L778.1,719.5 M787.9,719 L788.5,717.5 L788.8,741.1 L789.4,719.5 M797.0,719 L797.6,717.5 L797.9,746.4 L798.5,719.5 M808.1,719 L808.7,717.5 L809.0,745.7 L809.6,719.5 M818.5,719 L819.1,717.5 L819.4,741.7 L820.0,719.5 M828.8,719 L829.4,717.5 L829.7,741.3 L830.3,719.5 M839.2,719 L839.8,717.5 L840.1,745.2 L840.7,719.5 M849.5,719 L850.1,717.5 L850.4,746.6 L851.0,719.5 M859.1,719 L859.7,717.5 L860.0,741.4 L860.6,719.5 M869.5,719 L870.1,717.5 L870.4,746.7 L871.0,719.5 M880.1,719 L880.7,717.5 L881.0,746.2 L881.6,719.5 M890.9,719 L891.5,717.5 L891.8,744.2 L892.4,719.5 M902.6,719 L903.2,717.5 L903.5,743.0 L904.1,719.5 M912.2,719 L912.8,717.5 L913.1,740.7 L913.7,719.5 M924.1,719 L924.7,717.5 L925.0,740.3 L925.6,719.5 M934.4,719 L935.0,717.5 L935.3,746.7 L935.9,719.5 M945.3,719 L945.9,717.5 L946.2,741.7 L946.8,719.5 M956.9,719 L957.5,717.5 L957.8,744.9 L958.4,719.5 M963.7,719 L964.3,717.5 L964.6,741.8 L965.2,719.5 M973.2,719 L973.8,717.5 L974.1,745.8 L974.7,719.5 M982.5,719 L983.1,717.5 L983.4,744.2 L984.0,719.5 M992.6,719 L993.2,717.5 L993.5,742.1 L994.1,719.5 M1002.1,719 L1002.7,717.5 L1003.0,741.2 L1003.6,719.5 M1011.3,719 L1011.9,717.5 L1012.2,745.0 L1012.8,719.5 M1022.0,719 L1022.6,717.5 L1022.9,740.5 L1023.5,719.5 M1030.6,719 L1031.2,717.5 L1031.5,741.6 L1032.1,719.5 M1041.0,719 L1041.6,717.5 L1041.9,743.9 L1042.5,719.5 M1050.3,719 L1050.9,717.5 L1051.2,746.0 L1051.8,719.5 M1063.8,719 L1064.4,717.5 L1064.7,744.3 L1065.3,719.5 M1074.8,719 L1075.4,717.5 L1075.7,742.0 L1076.3,719.5 M1084.0,719 L1084.6,717.5 L1084.9,746.4 L1085.5,719.5 M1094.4,719 L1095.0,717.5 L1095.3,741.4 L1095.9,719.5 M1103.6,719 L1104.2,717.5 L1104.5,740.1 L1105.1,719.5 M1114.3,719 L1114.9,717.5 L1115.2,741.9 L1115.8,719.5 M1125.3,719 L1125.9,717.5 L1126.2,743.1 L1126.8,719.5 M1134.8,719 L1135.4,717.5 L1135.7,740.4 L1136.3,719.5 M1144.0,719 L1144.6,717.5 L1144.9,741.2 L1145.5,719.5 M1154.1,719 L1154.7,717.5 L1155.0,742.6 L1155.6,719.5 M1164.2,719 L1164.8,717.5 L1165.1,744.0 L1165.7,719.5 M1174.6,719 L1175.2,717.5 L1175.5,740.9 L1176.1,719.5 M1184.4,719 L1185.0,717.5 L1185.3,742.5 L1185.9,719.5 M1193.9,719 L1194.5,717.5 L1194.8,746.2 L1195.4,719.5 M1204.6,719 L1205.2,717.5 L1205.5,746.9 L1206.1,719.5 M1214.7,719 L1215.3,717.5 L1215.6,744.6 L1216.2,719.5 M1224.8,719 L1225.4,717.5 L1225.7,744.8 L1226.3,719.5 M1234.9,719 L1235.5,717.5 L1235.8,744.1 L1236.4,719.5 M1245.0,719 L1245.6,717.5 L1245.9,741.0 L1246.5,719.5" fill="none" stroke="#000" stroke-width="1.7" stroke-linejoin="round"/>
<path d="M753.5,719 L754.0,702.7 M762.6,719 L763.1,702.9 M772.0,719 L772.5,695.7 M783.3,719 L783.8,697.4 M792.4,719 L792.9,695.3 M803.5,719 L804.0,702.8 M813.9,719 L814.4,697.9 M824.2,719 L824.7,699.1 M834.6,719 L835.1,697.2 M844.9,719 L845.4,700.4 M854.5,719 L855.0,695.0 M864.9,719 L865.4,702.4 M875.5,719 L876.0,698.6 M886.3,719 L886.8,697.1 M898.0,719 L898.5,695.8 M907.6,719 L908.1,697.1 M919.5,719 L920.0,697.4 M929.8,719 L930.3,696.7 M940.7,719 L941.2,695.7 M952.3,719 L952.8,700.2 M959.1,719 L959.6,697.5 M968.6,719 L969.1,695.8 M977.9,719 L978.4,696.0 M988.0,719 L988.5,699.7 M997.5,719 L998.0,696.7 M1006.7,719 L1007.2,696.1 M1017.4,719 L1017.9,698.4 M1026.0,719 L1026.5,698.0 M1036.4,719 L1036.9,699.9 M1045.7,719 L1046.2,698.3 M1059.2,719 L1059.7,698.1 M1070.2,719 L1070.7,702.4 M1079.4,719 L1079.9,697.9 M1089.8,719 L1090.3,695.1 M1099.0,719 L1099.5,696.0 M1109.7,719 L1110.2,697.2 M1120.7,719 L1121.2,699.9 M1130.2,719 L1130.7,697.1 M1139.4,719 L1139.9,698.4 M1149.5,719 L1150.0,699.5 M1159.6,719 L1160.1,696.3 M1170.0,719 L1170.5,702.3 M1179.8,719 L1180.3,697.0 M1189.3,719 L1189.8,702.8 M1200.0,719 L1200.5,698.2 M1210.1,719 L1210.6,699.2 M1220.2,719 L1220.7,701.2 M1230.3,719 L1230.8,697.4 M1240.4,719 L1240.9,699.0 M1251.4,719 L1251.9,698.1" fill="none" stroke="#000" stroke-width="2"/>
<path d="M855.4,709 L856.0,704.8 L856.6,709 M855.4,727 L856.0,732.2 L856.6,727 M862.2,709 L862.8,704.2 L863.4,709 M862.2,727 L862.8,729.1 L863.4,727 M867.6,709 L868.2,705.1 L868.8,709 M867.6,727 L868.2,732.6 L868.8,727 M872.0,709 L872.6,706.3 L873.2,709 M872.0,727 L872.6,731.2 L873.2,727 M877.7,709 L878.3,703.7 L878.9,709 M877.7,727 L878.3,730.1 L878.9,727 M884.4,709 L885.0,706.5 L885.6,709 M884.4,727 L885.0,732.2 L885.6,727 M888.9,709 L889.5,706.6 L890.1,709 M888.9,727 L889.5,729.0 L890.1,727 M895.5,709 L896.1,703.7 L896.7,709 M895.5,727 L896.1,732.9 L896.7,727 M902.1,709 L902.7,699.2 L903.3,709 M902.1,727 L902.7,731.2 L903.3,727 M908.1,709 L908.7,699.4 L909.3,709 M908.1,727 L908.7,731.8 L909.3,727 M915.0,709 L915.6,706.1 L916.2,709 M915.0,727 L915.6,730.4 L916.2,727 M919.5,709 L920.1,704.6 L920.7,709 M919.5,727 L920.1,730.2 L920.7,727 M925.3,709 L925.9,700.9 L926.5,709 M925.3,727 L925.9,730.4 L926.5,727 M930.3,709 L930.9,705.6 L931.5,709 M930.3,727 L930.9,730.3 L931.5,727 M935.7,709 L936.3,706.8 L936.9,709 M935.7,727 L936.3,732.9 L936.9,727 M939.8,709 L940.4,704.5 L941.0,709 M939.8,727 L940.4,729.1 L941.0,727 M946.1,709 L946.7,705.3 L947.3,709 M946.1,727 L946.7,729.0 L947.3,727 M950.3,709 L950.9,699.3 L951.5,709 M950.3,727 L950.9,729.8 L951.5,727 M956.5,709 L957.1,704.2 L957.7,709 M956.5,727 L957.1,730.4 L957.7,727 M961.6,709 L962.2,704.7 L962.8,709 M961.6,727 L962.2,729.4 L962.8,727 M967.8,709 L968.4,704.4 L969.0,709 M967.8,727 L968.4,729.1 L969.0,727 M974.7,709 L975.3,703.0 L975.9,709 M974.7,727 L975.3,731.4 L975.9,727 M981.4,709 L982.0,704.2 L982.6,709 M981.4,727 L982.0,731.2 L982.6,727 M986.4,709 L987.0,706.5 L987.6,709 M986.4,727 L987.0,729.3 L987.6,727 M990.8,709 L991.4,704.0 L992.0,709 M990.8,727 L991.4,729.6 L992.0,727 M995.0,709 L995.6,705.4 L996.2,709 M995.0,727 L995.6,730.6 L996.2,727 M999.7,709 L1000.3,704.5 L1000.9,709 M999.7,727 L1000.3,730.8 L1000.9,727 M1004.9,709 L1005.5,699.5 L1006.1,709 M1004.9,727 L1005.5,729.1 L1006.1,727 M1010.4,709 L1011.0,706.6 L1011.6,709 M1010.4,727 L1011.0,731.9 L1011.6,727 M1017.3,709 L1017.9,704.6 L1018.5,709 M1017.3,727 L1017.9,729.4 L1018.5,727 M1022.6,709 L1023.2,699.9 L1023.8,709 M1022.6,727 L1023.2,730.2 L1023.8,727 M1027.9,709 L1028.5,704.4 L1029.1,709 M1027.9,727 L1028.5,732.9 L1029.1,727 M1033.3,709 L1033.9,704.8 L1034.5,709 M1033.3,727 L1033.9,730.9 L1034.5,727 M1038.2,709 L1038.8,706.6 L1039.4,709 M1038.2,727 L1038.8,730.5 L1039.4,727 M1045.1,709 L1045.7,705.1 L1046.3,709 M1045.1,727 L1045.7,731.0 L1046.3,727 M1050.2,709 L1050.8,703.4 L1051.4,709 M1050.2,727 L1050.8,732.1 L1051.4,727" fill="none" stroke="#000" stroke-width="1.4"/>
<path d="M868.2,712 L869.0,649.0 L869.8,712 M902.2,712 L903.0,667.0 L903.8,712 M971.7,712 L972.5,654.0 L973.3,712 M980.2,712 L981.0,668.5 L981.8,712 M1000.6,712 L1001.4,664.0 L1002.2,712 M1009.2,712 L1010.0,655.5 L1010.8,712 M1030.0,712 L1030.8,683.0 L1031.6,712 M1049.6,712 L1050.4,675.7 L1051.2,712" fill="none" stroke="#000" stroke-width="2.2"/>
<rect x="752.8" y="528.4" width="505.60000000000014" height="376.20000000000005" fill="none" stroke="#000" stroke-width="2.6"/>
<line x1="752.8" y1="623.9" x2="759.3" y2="623.9" stroke="#000" stroke-width="2.6"/>
<line x1="752.8" y1="717.6" x2="759.3" y2="717.6" stroke="#000" stroke-width="2.6"/>
<line x1="752.8" y1="811.3" x2="759.3" y2="811.3" stroke="#000" stroke-width="2.6"/>
<line x1="752.8" y1="577.0" x2="756.3" y2="577.0" stroke="#000" stroke-width="2.6"/>
<line x1="752.8" y1="670.8" x2="756.3" y2="670.8" stroke="#000" stroke-width="2.6"/>
<line x1="752.8" y1="764.5" x2="756.3" y2="764.5" stroke="#000" stroke-width="2.6"/>
<line x1="752.8" y1="858.2" x2="756.3" y2="858.2" stroke="#000" stroke-width="2.6"/>
<line x1="853.5" y1="904.6" x2="853.5" y2="898.1" stroke="#000" stroke-width="2.6"/>
<line x1="954.5" y1="904.6" x2="954.5" y2="898.1" stroke="#000" stroke-width="2.6"/>
<line x1="1055.5" y1="904.6" x2="1055.5" y2="898.1" stroke="#000" stroke-width="2.6"/>
<line x1="1156.5" y1="904.6" x2="1156.5" y2="898.1" stroke="#000" stroke-width="2.6"/>
<line x1="803.0" y1="904.6" x2="803.0" y2="901.1" stroke="#000" stroke-width="2.6"/>
<line x1="904.0" y1="904.6" x2="904.0" y2="901.1" stroke="#000" stroke-width="2.6"/>
<line x1="1005.0" y1="904.6" x2="1005.0" y2="901.1" stroke="#000" stroke-width="2.6"/>
<line x1="1106.0" y1="904.6" x2="1106.0" y2="901.1" stroke="#000" stroke-width="2.6"/>
<line x1="1207.0" y1="904.6" x2="1207.0" y2="901.1" stroke="#000" stroke-width="2.6"/>
<text x="740.8" y="537.4" font-size="26.5" font-weight="bold" text-anchor="end" >2</text>
<text x="740.8" y="631.9" font-size="26.5" font-weight="bold" text-anchor="end" >1</text>
<text x="740.8" y="821.7" font-size="26.5" font-weight="bold" text-anchor="end" >-1</text>
<text x="740.8" y="915.7" font-size="26.5" font-weight="bold" text-anchor="end" >-2</text>
<text x="740.6" y="727.0" font-size="26.5" font-weight="bold" text-anchor="end" >0</text>
<text x="751.9" y="937.8" font-size="26.5" font-weight="bold" text-anchor="middle" >0</text>
<text x="851.7" y="937.8" font-size="26.5" font-weight="bold" text-anchor="middle" >10</text>
<text x="953.4" y="937.8" font-size="26.5" font-weight="bold" text-anchor="middle" >20</text>
<text x="1054.0" y="937.8" font-size="26.5" font-weight="bold" text-anchor="middle" >30</text>
<text x="1156.1" y="937.8" font-size="26.5" font-weight="bold" text-anchor="middle" >40</text>
<text x="1256.9" y="937.8" font-size="26.5" font-weight="bold" text-anchor="middle" >50</text>
<text x="1005.0" y="964.0" font-size="26.5" font-weight="bold" text-anchor="middle" >Time (s)</text>
<text transform="translate(703.3,699.0) rotate(-90)" font-size="27" font-weight="bold" text-anchor="middle">V<tspan font-size="19" font-weight="normal" dy="5">oc</tspan><tspan dy="-5"> (V)</tspan></text>
<text x="664.5" y="531.0" font-size="40" font-weight="bold" text-anchor="start" >(d)</text>
<text x="803.5" y="890.4" font-size="22" font-weight="bold" text-anchor="middle" >1.00</text>
<text x="905.5" y="890.4" font-size="22" font-weight="bold" text-anchor="middle" >1.05</text>
<text x="1004.5" y="890.4" font-size="22" font-weight="bold" text-anchor="middle" >1.10</text>
<text x="1105.0" y="890.4" font-size="22" font-weight="bold" text-anchor="middle" >1.15</text>
<text x="1207.0" y="890.4" font-size="22" font-weight="bold" text-anchor="middle" >1.20</text>
</svg>
</body></html>
